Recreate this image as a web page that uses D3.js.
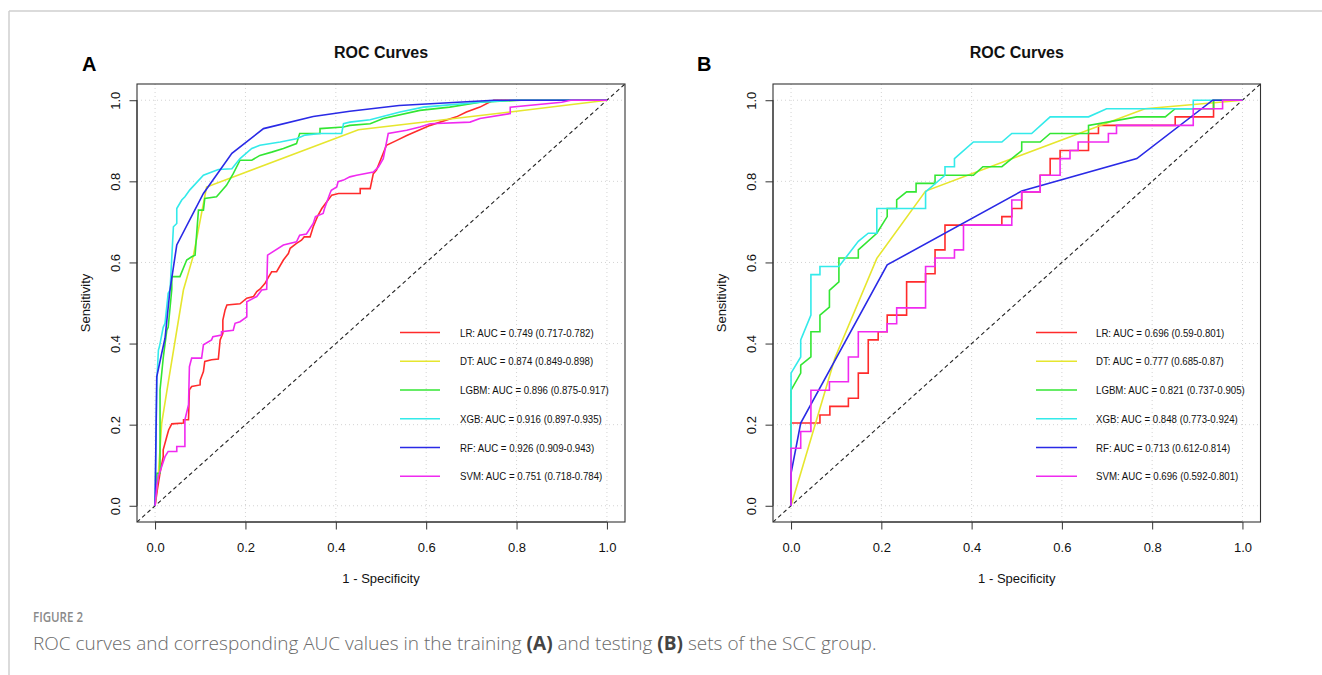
<!DOCTYPE html>
<html><head><meta charset="utf-8">
<script src="https://cdn.jsdelivr.net/npm/d3@7"></script>
<style>body{margin:0;background:#fff} svg{display:block}</style>
</head><body>
<svg id="chart" width="1322" height="675"></svg>
<script>
// ---------------- data ----------------
const models = ["LR", "DT", "LGBM", "XGB", "RF", "SVM"];
const colors = ["#ff2b2b", "#e6e62e", "#33e633", "#33eaea", "#2a2ae6", "#f02af0"];
const trainAUC = ["0.749 (0.717-0.782)", "0.874 (0.849-0.898)", "0.896 (0.875-0.917)",
                  "0.916 (0.897-0.935)", "0.926 (0.909-0.943)", "0.751 (0.718-0.784)"];
const testAUC  = ["0.696 (0.59-0.801)", "0.777 (0.685-0.87)", "0.821 (0.737-0.905)",
                  "0.848 (0.773-0.924)", "0.713 (0.612-0.814)", "0.696 (0.592-0.801)"];
const tickValues = [0, 0.2, 0.4, 0.6, 0.8, 1.0];
const tickLabels = ["0.0", "0.2", "0.4", "0.6", "0.8", "1.0"];
const panelLetters = ["A", "B"];
const plotTitle = "ROC Curves";
const xTitle = "1 - Specificity";
const yTitle = "Sensitivity";

// training set (A): [1 - specificity, sensitivity]
const trainLR = [[0,0],[0.005,0.039],[0.011,0.081],[0.018,0.121],[0.018,0.138],[0.026,0.171],[0.03,0.187],[0.037,0.202],[0.063,0.204],[0.063,0.212],[0.074,0.212],[0.076,0.286],[0.081,0.294],[0.0996,0.298],[0.1,0.31],[0.107,0.331],[0.11,0.356],[0.125,0.36],[0.14,0.362],[0.144,0.409],[0.15,0.425],[0.15,0.458],[0.155,0.483],[0.159,0.495],[0.188,0.498],[0.203,0.512],[0.218,0.516],[0.225,0.528],[0.232,0.534],[0.243,0.548],[0.251,0.564],[0.258,0.577],[0.269,0.577],[0.284,0.606],[0.295,0.622],[0.299,0.635],[0.313,0.647],[0.324,0.655],[0.33,0.663],[0.343,0.663],[0.35,0.688],[0.353,0.696],[0.361,0.717],[0.369,0.733],[0.383,0.754],[0.391,0.766],[0.406,0.77],[0.454,0.77],[0.454,0.782],[0.476,0.782],[0.483,0.819],[0.49,0.828],[0.512,0.889],[0.535,0.901],[0.557,0.913],[0.609,0.938],[0.667,0.959],[0.689,0.971],[0.719,0.983],[0.745,0.998],[0.75,1],[1,1]];
const trainDT = [[0,0],[0.004,0.05],[0.0074,0.081],[0.0147,0.204],[0.03,0.31],[0.0627,0.532],[0.085,0.618],[0.114,0.786],[0.45,0.927],[0.786,0.971],[1,1]];
const trainLGBM = [[0,0],[0.004,0.08],[0.011,0.081],[0.011,0.286],[0.0184,0.368],[0.026,0.433],[0.029,0.44],[0.037,0.534],[0.037,0.565],[0.055,0.565],[0.07,0.606],[0.081,0.614],[0.0885,0.618],[0.096,0.729],[0.107,0.729],[0.11,0.758],[0.136,0.762],[0.158,0.79],[0.173,0.819],[0.188,0.852],[0.214,0.852],[0.232,0.864],[0.258,0.872],[0.284,0.881],[0.313,0.893],[0.32,0.918],[0.365,0.918],[0.365,0.93],[0.417,0.934],[0.431,0.938],[0.476,0.942],[0.505,0.955],[0.586,0.975],[0.652,0.983],[0.719,0.995],[0.81,1],[1,1]];
const trainXGB = [[0,0],[0.004,0.31],[0.0074,0.384],[0.0096,0.392],[0.018,0.44],[0.022,0.45],[0.029,0.524],[0.0332,0.532],[0.0406,0.688],[0.048,0.696],[0.048,0.733],[0.059,0.754],[0.066,0.762],[0.077,0.779],[0.107,0.815],[0.14,0.829],[0.17,0.831],[0.188,0.856],[0.214,0.881],[0.232,0.889],[0.277,0.897],[0.313,0.905],[0.332,0.914],[0.365,0.918],[0.413,0.918],[0.417,0.942],[0.431,0.946],[0.476,0.952],[0.542,0.971],[0.594,0.983],[0.645,0.988],[0.72,0.995],[0.793,1],[1,1]];
const trainRF = [[0,0],[0.0037,0.318],[0.0147,0.376],[0.022,0.413],[0.033,0.532],[0.048,0.643],[0.107,0.77],[0.17,0.869],[0.24,0.93],[0.35,0.96],[0.431,0.973],[0.54,0.987],[0.75,1],[1,1]];
const trainSVM = [[0,0],[0.004,0.05],[0.0074,0.073],[0.0147,0.097],[0.022,0.121],[0.029,0.134],[0.048,0.134],[0.048,0.146],[0.066,0.146],[0.066,0.212],[0.074,0.249],[0.076,0.343],[0.081,0.364],[0.103,0.364],[0.107,0.397],[0.125,0.409],[0.128,0.417],[0.147,0.421],[0.147,0.429],[0.173,0.433],[0.177,0.45],[0.188,0.454],[0.203,0.466],[0.203,0.503],[0.225,0.516],[0.236,0.532],[0.247,0.534],[0.249,0.618],[0.284,0.643],[0.313,0.651],[0.32,0.667],[0.335,0.67],[0.35,0.696],[0.355,0.713],[0.372,0.721],[0.375,0.733],[0.387,0.77],[0.39,0.778],[0.402,0.786],[0.405,0.799],[0.417,0.803],[0.431,0.811],[0.446,0.815],[0.483,0.823],[0.494,0.835],[0.505,0.856],[0.516,0.918],[0.557,0.926],[0.586,0.934],[0.609,0.942],[0.697,0.946],[0.719,0.955],[0.786,0.967],[0.786,0.983],[0.9,0.995],[0.92,1],[1,1]];

// testing set (B)
const testLR = [[0,0],[0,0.204],[0.064,0.204],[0.064,0.224],[0.086,0.224],[0.086,0.245],[0.127,0.245],[0.127,0.265],[0.149,0.265],[0.149,0.327],[0.171,0.327],[0.171,0.409],[0.193,0.409],[0.193,0.429],[0.213,0.429],[0.213,0.47],[0.256,0.47],[0.256,0.552],[0.298,0.552],[0.298,0.572],[0.319,0.572],[0.319,0.631],[0.341,0.631],[0.341,0.692],[0.467,0.692],[0.467,0.713],[0.489,0.713],[0.489,0.733],[0.511,0.733],[0.511,0.774],[0.552,0.774],[0.552,0.815],[0.574,0.815],[0.574,0.856],[0.596,0.856],[0.596,0.876],[0.659,0.876],[0.659,0.918],[0.681,0.918],[0.681,0.938],[0.851,0.938],[0.851,0.959],[0.936,0.959],[0.936,1],[1,1]];
const testDT = [[0,0],[0.097,0.364],[0.19,0.61],[0.298,0.776],[0.784,0.979],[1,1]];
const testLGBM = [[0,0],[0,0.285],[0.0214,0.327],[0.0214,0.347],[0.044,0.367],[0.044,0.429],[0.064,0.429],[0.064,0.47],[0.085,0.49],[0.085,0.531],[0.106,0.552],[0.106,0.611],[0.149,0.611],[0.149,0.631],[0.19,0.672],[0.213,0.713],[0.213,0.733],[0.234,0.733],[0.234,0.754],[0.256,0.774],[0.277,0.774],[0.277,0.795],[0.319,0.795],[0.319,0.815],[0.404,0.815],[0.425,0.836],[0.467,0.836],[0.489,0.856],[0.511,0.876],[0.511,0.897],[0.552,0.897],[0.574,0.918],[0.659,0.918],[0.659,0.938],[0.766,0.959],[0.829,0.959],[0.851,0.979],[0.936,0.979],[0.936,1],[1,1]];
const testXGB = [[0,0],[0,0.327],[0.0214,0.367],[0.0214,0.409],[0.044,0.47],[0.044,0.57],[0.064,0.57],[0.064,0.59],[0.106,0.59],[0.149,0.652],[0.171,0.672],[0.19,0.672],[0.19,0.733],[0.298,0.733],[0.298,0.774],[0.341,0.815],[0.341,0.836],[0.362,0.836],[0.362,0.856],[0.404,0.897],[0.467,0.897],[0.489,0.918],[0.533,0.918],[0.574,0.959],[0.659,0.959],[0.699,0.979],[0.891,0.979],[0.891,1],[1,1]];
const testRF = [[0,0],[0,0.08],[0.0214,0.204],[0.213,0.594],[0.511,0.776],[0.766,0.856],[0.934,1],[1,1]];
const testSVM = [[0,0],[0,0.142],[0.0214,0.142],[0.0214,0.183],[0.044,0.183],[0.044,0.285],[0.085,0.285],[0.085,0.306],[0.127,0.306],[0.127,0.367],[0.149,0.367],[0.149,0.429],[0.213,0.429],[0.213,0.449],[0.234,0.449],[0.234,0.488],[0.298,0.488],[0.298,0.59],[0.319,0.59],[0.319,0.611],[0.362,0.611],[0.362,0.631],[0.382,0.631],[0.382,0.692],[0.489,0.692],[0.489,0.754],[0.511,0.754],[0.511,0.774],[0.552,0.774],[0.552,0.815],[0.596,0.815],[0.596,0.856],[0.618,0.856],[0.618,0.876],[0.636,0.876],[0.636,0.897],[0.703,0.897],[0.703,0.918],[0.721,0.918],[0.721,0.938],[0.891,0.938],[0.891,0.979],[0.956,0.979],[0.956,1],[1,1]];

const captionHead = "FIGURE 2";
const captionParts = [
  {t: "ROC curves and corresponding AUC values in the training ", b: false},
  {t: "(A)", b: true},
  {t: " and testing ", b: false},
  {t: "(B)", b: true},
  {t: " sets of the SCC group.", b: false}
];

// ---------------- drawing ----------------
const svg = d3.select("#chart");
const FONT = "'Liberation Sans', Arial, Helvetica, sans-serif";

// outer article frame
svg.append("line").attr("x1", 9).attr("x2", 1322).attr("y1", 11).attr("y2", 11)
  .attr("stroke", "#cfcfcf").attr("stroke-width", 1.5);
svg.append("line").attr("x1", 9).attr("x2", 9).attr("y1", 11).attr("y2", 675)
  .attr("stroke", "#cfcfcf").attr("stroke-width", 1.5);

function hText(g, x, y, str, size, sx, opts = {}) {
  const t = g.append("text")
    .attr("transform", `translate(${x},${y}) rotate(${opts.rot || 0}) scale(${sx},1)`)
    .attr("font-family", FONT).attr("font-size", size)
    .attr("font-weight", opts.bold ? "bold" : "normal")
    .attr("text-anchor", opts.anchor || "start")
    .attr("fill", opts.fill || "#111")
    .text(str);
  return t;
}

const panels = [
  {left: 137, right: 625, top: 84, bottom: 522, letterX: 82, legendLine: [400, 440], legendText: 460,
   curves: [trainLR, trainDT, trainLGBM, trainXGB, trainRF, trainSVM], auc: trainAUC},
  {left: 773, right: 1260.5, top: 84, bottom: 522, letterX: 697, legendLine: [1036, 1077], legendText: 1096,
   curves: [testLR, testDT, testLGBM, testXGB, testRF, testSVM], auc: testAUC}
];

panels.forEach((p, pi) => {
  const g = svg.append("g");
  const x = d3.scaleLinear().domain([-0.04, 1.04]).range([p.left, p.right]);
  const y = d3.scaleLinear().domain([-0.04, 1.04]).range([p.bottom, p.top]);
  const clipId = "clip" + pi;
  svg.append("clipPath").attr("id", clipId).append("rect")
    .attr("x", p.left).attr("y", p.top).attr("width", p.right - p.left).attr("height", p.bottom - p.top);

  // grid
  tickValues.forEach(v => {
    g.append("line").attr("x1", x(v)).attr("x2", x(v)).attr("y1", p.top).attr("y2", p.bottom)
      .attr("stroke", "#d3d3d3").attr("stroke-width", 1).attr("stroke-dasharray", "1,3");
    g.append("line").attr("x1", p.left).attr("x2", p.right).attr("y1", y(v)).attr("y2", y(v))
      .attr("stroke", "#d3d3d3").attr("stroke-width", 1).attr("stroke-dasharray", "1,3");
  });

  // diagonal reference
  g.append("line").attr("clip-path", `url(#${clipId})`)
    .attr("x1", x(-0.04)).attr("y1", y(-0.04)).attr("x2", x(1.04)).attr("y2", y(1.04))
    .attr("stroke", "#222").attr("stroke-width", 1.1).attr("stroke-dasharray", "4,3");

  // curves
  const line = d3.line().x(d => x(d[0])).y(d => y(d[1]));
  p.curves.forEach((c, i) => {
    g.append("path").datum(c).attr("d", line).attr("fill", "none")
      .attr("stroke", colors[i]).attr("stroke-width", 1.6).attr("stroke-linejoin", "miter")
      .attr("clip-path", `url(#${clipId})`);
  });

  // box
  g.append("rect").attr("x", p.left).attr("y", p.top).attr("width", p.right - p.left)
    .attr("height", p.bottom - p.top).attr("fill", "none").attr("stroke", "#333").attr("stroke-width", 1.1);

  // axes via d3 axis
  const xAxis = d3.axisBottom(x).tickValues(tickValues).tickFormat((d, i) => tickLabels[i])
    .tickSize(7.5).tickPadding(0);
  const gx = g.append("g").attr("transform", `translate(0,${p.bottom})`).call(xAxis);
  gx.select(".domain").attr("d", `M${x(0)},0H${x(1)}`).attr("stroke", "#333");
  gx.selectAll(".tick line").attr("stroke", "#333");
  gx.selectAll(".tick text").remove();
  gx.selectAll(".tick").each(function(d, i) {
    hText(d3.select(this), 0, 30, tickLabels[i], 13, 1, {anchor: "middle"});
  });

  const yAxis = d3.axisLeft(y).tickValues(tickValues).tickFormat((d, i) => tickLabels[i])
    .tickSize(7.5).tickPadding(0);
  const gy = g.append("g").attr("transform", `translate(${p.left},0)`).call(yAxis);
  gy.select(".domain").attr("d", `M0,${y(0)}V${y(1)}`).attr("stroke", "#333");
  gy.selectAll(".tick line").attr("stroke", "#333");
  gy.selectAll(".tick text").remove();
  gy.selectAll(".tick").each(function(d, i) {
    hText(d3.select(this), -17, 0, tickLabels[i], 13, 1, {anchor: "middle", rot: -90});
  });

  // titles
  const cx = (p.left + p.right) / 2;
  hText(g, cx, 58, plotTitle, 16, 1, {anchor: "middle", bold: true});
  hText(g, cx, 583, xTitle, 13, 1, {anchor: "middle"});
  hText(g, p.left - 47, (y(0) + y(1)) / 2, yTitle, 13, 1, {anchor: "middle", rot: -90});
  hText(g, p.letterX, 71, panelLetters[pi], 20, 1, {bold: true, fill: "#000"});

  // legend
  models.forEach((m, i) => {
    const ly = 332.5 + i * 28.75;
    g.append("line").attr("x1", p.legendLine[0]).attr("x2", p.legendLine[1])
      .attr("y1", ly).attr("y2", ly).attr("stroke", colors[i]).attr("stroke-width", 1.6);
    hText(g, p.legendText, ly + 4, `${m}: AUC = ${p.auc[i]}`, 11, 0.88, {});
  });
});

// caption
svg.append("text").attr("x", 33).attr("y", 622)
  .attr("font-family", "'Open Sans', 'Noto Sans', sans-serif").attr("font-size", 14)
  .attr("font-weight", 600).attr("fill", "#8a8a8a")
  .attr("textLength", 50).attr("lengthAdjust", "spacingAndGlyphs")
  .text(captionHead);
const cap = svg.append("text").attr("x", 33).attr("y", 650)
  .attr("font-family", "'Open Sans', 'Noto Sans', sans-serif").attr("font-size", 19)
  .attr("fill", "#6a6a6a");
captionParts.forEach(p => {
  cap.append("tspan").attr("font-weight", p.b ? 700 : 300).attr("fill", p.b ? "#444" : "#6a6a6a").text(p.t);
});
</script>
</body></html>
